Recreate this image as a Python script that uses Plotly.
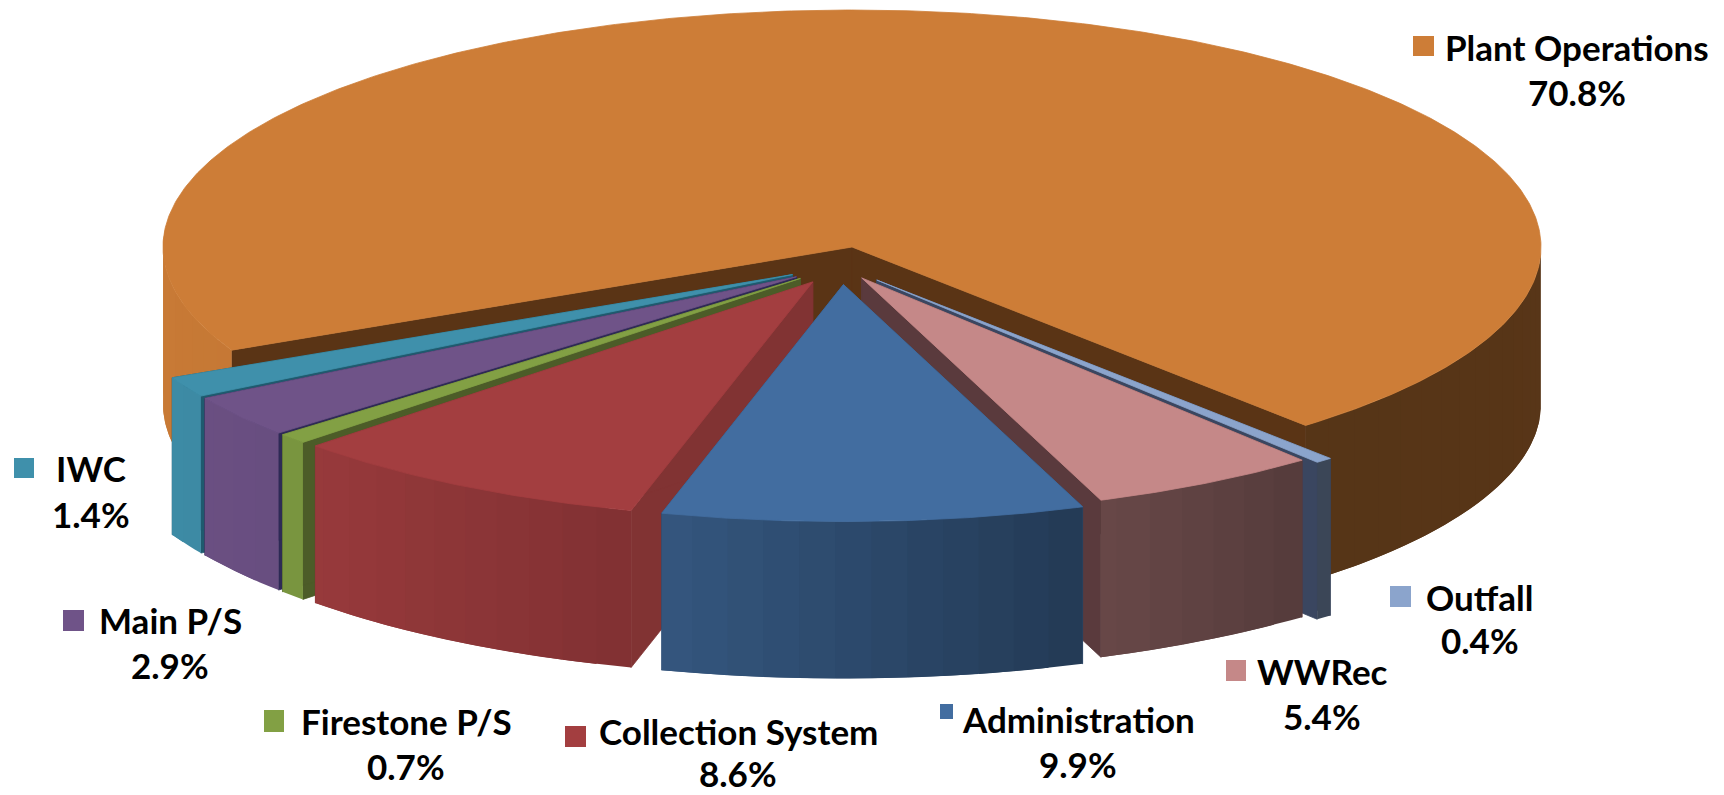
import numpy as np
import plotly.graph_objects as go

# Budget shares, clockwise from the first slice
categories = ["Plant Operations", "Outfall", "WWRec", "Administration",
              "Collection System", "Firestone P/S", "Main P/S", "IWC"]
shares = [70.8, 0.4, 5.4, 9.9, 8.6, 0.7, 2.9, 1.4]

# Slice styling
top_colors = [(205, 125, 55), (139, 164, 204), (197, 136, 136), (66, 109, 160),
              (163, 62, 64), (130, 160, 68), (111, 83, 136), (63, 144, 171)]
face_colors = ["#5a3415", "#3a4660", "#5a3a3d", "#2c4a70",
               "#813333", "#4c5c28", "#2e2a55", "#1f5a6e"]
explode_by_slice = [0.08, 0.08, 0.06, 0.08, 0.08, 0.08, 0.08, 0.08]
paint_order = ["Plant Operations", "IWC", "Main P/S", "Firestone P/S", "Outfall",
               "Collection System", "WWRec", "Administration"]

# Tilted pie geometry, in axis units
center_x, center_y = 841.0, 265.6
radius_x, radius_y = 689.0, 237.0
thickness = 157.0
first_angle = 154.2  # degrees clockwise from east

# Side wall shading against angle
shade_angle = [0, 48, 70, 105, 136, 150, 180]
shade_value = [0.43, 0.42, 0.53, 0.79, 0.93, 0.96, 0.98]

# Label layout: name centre, name y, value y, swatch box
label_layout = {
    "Plant Operations": (1577, 47, 92, (1413, 36, 1434, 56)),
    "Outfall": (1480, 597, 640, (1390, 586, 1411, 607)),
    "WWRec": (1322, 671, 716, (1226, 660, 1246, 681)),
    "Administration": (1078, 719, 764, (940, 704, 953, 719)),
    "Collection System": (738, 731, 773, (565, 726, 586, 747)),
    "Firestone P/S": (406, 721, 766, (264, 710, 284, 732)),
    "Main P/S": (170, 620, 665, (63, 610, 84, 631)),
    "IWC": (91, 468, 514, (14, 458, 34, 478)),
}
name_font = dict(family="Lato, Liberation Sans", size=35, color="black", weight="bold")

fig = go.Figure()


def rgb(c, f=1.0):
    return "rgb(%d,%d,%d)" % tuple(round(v * f) for v in c)


def add_poly(xs, ys, color, line_width=0.8):
    fig.add_trace(go.Scatter(
        x=list(xs), y=list(ys), mode="lines", fill="toself", fillcolor=color,
        line=dict(color=color, width=line_width), hoverinfo="skip", showlegend=False))


def rim(ox, oy, t):
    r = np.radians(t)
    return ox + radius_x * np.cos(r), oy + radius_y * np.sin(r)


# Angular span of each slice
total = sum(shares)
spans = {}
angle = first_angle
for name, share in zip(categories, shares):
    sweep = share / total * 360
    spans[name] = (angle, angle + sweep)
    angle += sweep

step = 3.0
for name in paint_order:
    i = categories.index(name)
    t0, t1 = spans[name]
    mid = np.radians((t0 + t1) / 2)
    ox = center_x + explode_by_slice[i] * radius_x * np.cos(mid)
    oy = center_y + explode_by_slice[i] * radius_y * np.sin(mid)

    # Radial cut faces
    for t in (t0, t1):
        px, py = rim(ox, oy, t)
        add_poly([ox, px, px, ox, ox],
                 [oy, py, py + thickness, oy + thickness, oy], face_colors[i])

    # Outer wall in short shaded bands; each band runs under its neighbour
    # so no background shows through at the joins
    for a in np.arange(t0, t1, step):
        b = min(a + step, t1)
        am = ((a + b) / 2) % 360
        if am >= 180:
            continue
        ts = np.linspace(a, min(b + step, t1), 6)
        xs, ys = rim(ox, oy, ts)
        f = float(np.interp(am, shade_angle, shade_value))
        add_poly(np.r_[xs, xs[::-1]], np.r_[ys, ys[::-1] + thickness],
                 rgb(top_colors[i], f), line_width=0)

    # Top surface
    ts = np.linspace(t0, t1, max(8, int((t1 - t0) * 2)))
    xs, ys = rim(ox, oy, ts)
    add_poly(np.r_[ox, xs, ox], np.r_[oy, ys, oy], rgb(top_colors[i]))

# Names, percentages and colour swatches
shapes = []
annotations = []
for name, share, color in zip(categories, shares, top_colors):
    cx, ny, vy, (x0, y0, x1, y1) = label_layout[name]
    shapes.append(dict(type="rect", xref="x", yref="y", x0=x0, y0=y0, x1=x1, y1=y1,
                       fillcolor=rgb(color), line_width=0))
    for text, y in ((name, ny), (f"{share}%", vy)):
        annotations.append(dict(x=cx, y=y, xref="x", yref="y", text=text, showarrow=False,
                                xanchor="center", yanchor="middle", font=name_font))

fig.update_layout(
    width=1724, height=795, margin=dict(l=0, r=0, t=0, b=0),
    paper_bgcolor="white", plot_bgcolor="white", showlegend=False,
    xaxis=dict(range=[0, 1724], visible=False, fixedrange=True),
    yaxis=dict(range=[795, 0], visible=False, fixedrange=True),
    shapes=shapes, annotations=annotations,
)
fig.write_html("out.html", config=dict(displayModeBar=False))
